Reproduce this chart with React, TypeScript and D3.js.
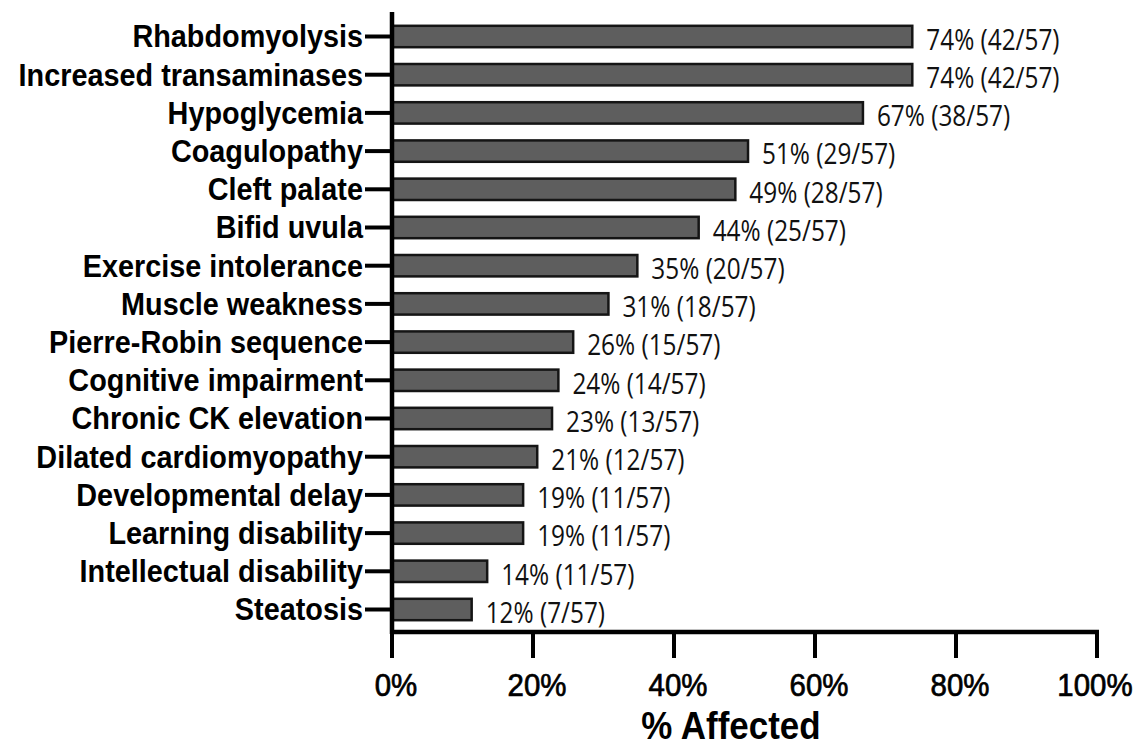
import React from "react";
import * as d3 from "d3";

const categories = [
  "Rhabdomyolysis",
  "Increased transaminases",
  "Hypoglycemia",
  "Coagulopathy",
  "Cleft palate",
  "Bifid uvula",
  "Exercise intolerance",
  "Muscle weakness",
  "Pierre-Robin sequence",
  "Cognitive impairment",
  "Chronic CK elevation",
  "Dilated cardiomyopathy",
  "Developmental delay",
  "Learning disability",
  "Intellectual disability",
  "Steatosis",
];

const values = [73.8, 73.8, 66.8, 50.5, 48.7, 43.5, 34.8, 30.7, 25.7, 23.6, 22.7, 20.6, 18.6, 18.6, 13.5, 11.3];

const valueLabels = [
  "74% (42/57)",
  "74% (42/57)",
  "67% (38/57)",
  "51% (29/57)",
  "49% (28/57)",
  "44% (25/57)",
  "35% (20/57)",
  "31% (18/57)",
  "26% (15/57)",
  "24% (14/57)",
  "23% (13/57)",
  "21% (12/57)",
  "19% (11/57)",
  "19% (11/57)",
  "14% (11/57)",
  "12% (7/57)",
];

const xTicks = [0, 20, 40, 60, 80, 100];
const xTitle = "% Affected";

export default function App() {
  const W = 1144;
  const H = 746;
  const x = d3.scaleLinear().domain([0, 100]).range([392, 1097]);
  const y = d3.scalePoint<string>().domain(categories).range([36.5, 609.5]);
  const step = y.step();
  const barH = step * 0.56;
  const axisY = 632;
  const axisX = x(0);
  const fmt = (d: number) => `${d}%`;

  return (
    <svg
      width={W}
      height={H}
      viewBox={`0 0 ${W} ${H}`}
      style={{ position: "absolute", left: 0, top: 0, display: "block", background: "#fff" }}
    >
      {/* bars */}
      {categories.map((c, i) => {
        const cy = y(c) as number;
        return (
          <rect
            key={"b" + c}
            x={axisX}
            y={cy - barH / 2}
            width={x(values[i]) - axisX}
            height={barH}
            fill="#5e5e5e"
            stroke="#151515"
            strokeWidth={2.5}
          />
        );
      })}

      {/* value labels */}
      {categories.map((c, i) => {
        const cy = y(c) as number;
        return (
          <g key={"v" + c} transform={`translate(${x(values[i]) + 14},${cy + 2}) scale(0.84,1)`}>
            <text
              x={0}
              y={0}
              dominantBaseline="central"
              fontFamily="'Open Sans', sans-serif"
              fontSize={29}
              fill="#111"
            >
              {valueLabels[i]}
            </text>
          </g>
        );
      })}

      {/* y axis */}
      <line x1={axisX} x2={axisX} y1={12} y2={axisY + 2} stroke="#000" strokeWidth={4.5} />
      {categories.map((c) => {
        const cy = y(c) as number;
        return (
          <g key={"t" + c}>
            <line x1={365} x2={axisX} y1={cy} y2={cy} stroke="#000" strokeWidth={4} />
            <g transform={`translate(363,${cy}) scale(0.93,1)`}>
              <text
                x={0}
                y={0}
                textAnchor="end"
                dominantBaseline="central"
                fontFamily="'Liberation Sans', Arial, sans-serif"
                fontWeight="bold"
                fontSize={31}
                fill="#000"
              >
                {c}
              </text>
            </g>
          </g>
        );
      })}

      {/* x axis */}
      <line x1={axisX - 2} x2={x(100) + 2} y1={axisY} y2={axisY} stroke="#000" strokeWidth={4.5} />
      {xTicks.map((t) => (
        <g key={"x" + t}>
          <line x1={x(t)} x2={x(t)} y1={axisY} y2={658} stroke="#000" strokeWidth={4} />
          <g transform={`translate(${x(t) + (t === 100 ? -2 : 4)},696) scale(0.95,1)`}>
            <text
              x={0}
              y={0}
              textAnchor="middle"
              fontFamily="'Liberation Sans', Arial, sans-serif"
              fontSize={31}
              fill="#000"
              stroke="#000"
              strokeWidth={0.7}
            >
              {fmt(t)}
            </text>
          </g>
        </g>
      ))}

      <g transform="translate(731,739) scale(0.92,1)">
        <text
          x={0}
          y={0}
          textAnchor="middle"
          fontFamily="'Liberation Sans', Arial, sans-serif"
          fontWeight="bold"
          fontSize={38}
          fill="#000"
        >
          {xTitle}
        </text>
      </g>
    </svg>
  );
}
